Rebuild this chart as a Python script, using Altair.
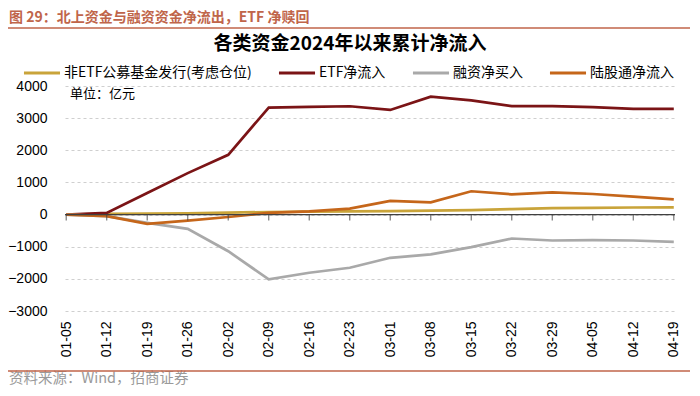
import altair as alt
import pandas as pd

dates = ["01-05", "01-12", "01-19", "01-26", "02-02", "02-09", "02-16", "02-23",
         "03-01", "03-08", "03-15", "03-22", "03-29", "04-05", "04-12", "04-19"]

series_names = ["非ETF公募基金发行(考虑仓位)", "ETF净流入", "融资净买入", "陆股通净流入"]
series_colors = ["#C9A43A", "#7B1416", "#A9A9A9", "#C5661A"]

non_etf = [0, 20, 30, 40, 60, 80, 90, 100, 110, 120, 140, 170, 200, 210, 220, 225]
etf = [0, 50, 670, 1290, 1860, 3330, 3350, 3370, 3255, 3670, 3550, 3375, 3375, 3345, 3290, 3290]
margin = [0, -50, -260, -445, -1140, -2015, -1810, -1655, -1345, -1240, -1013, -745, -806, -795, -806, -847]
northbound = [0, -50, -290, -190, -75, 50, 100, 185, 425, 380, 725, 630, 690, 640, 560, 475]

y_ticks = [-3000, -2000, -1000, 0, 1000, 2000, 3000, 4000]

header = "图 29：北上资金与融资资金净流出，ETF 净赎回"
chart_title = "各类资金2024年以来累计净流入"
unit_note = "单位：亿元"
source = "资料来源：Wind，招商证券"

rows = []
for name, vals in zip(series_names, [non_etf, etf, margin, northbound]):
    for d, v in zip(dates, vals):
        rows.append({"date": d, "series": name, "value": v})
df = pd.DataFrame(rows)

W, H = 610, 225
CJK = "Noto Sans CJK SC"
LAT = "Liberation Sans"

xscale = alt.Scale(type="point", domain=dates, padding=0.03)
yscale = alt.Scale(domain=[-3000, 4000], nice=False)

xaxis = alt.Axis(title=None, labelAngle=-90, domain=False, ticks=False,
                 labelPadding=10, labelFont=LAT, labelFontSize=14,
                 labelColor="#000000", grid=False, labelOverlap=False)
yaxis = alt.Axis(title=None, values=y_ticks, format="d", domain=False, ticks=False,
                 labelPadding=18, labelFont=LAT, labelFontSize=14,
                 labelColor="#000000", grid=True, gridColor="#CFCFCF",
                 gridDash=[3, 3], gridWidth=1, labelOverlap=False)

lines = alt.Chart(df).mark_line(strokeWidth=2.7).encode(
    x=alt.X("date:N", scale=xscale, sort=dates, axis=xaxis),
    y=alt.Y("value:Q", scale=yscale, axis=yaxis),
    color=alt.Color("series:N",
                    scale=alt.Scale(domain=series_names, range=series_colors),
                    legend=alt.Legend(title=None, orient="none", direction="horizontal",
                                      legendX=-43, legendY=-33, symbolType="stroke",
                                      symbolSize=1300, symbolStrokeWidth=3,
                                      labelFont=CJK, labelFontSize=14, labelLimit=400,
                                      labelColor="#000000", labelOffset=2,
                                      columnPadding=20, columns=4)),
    order=alt.Order("series_idx:Q"),
).transform_calculate(
    series_idx="indexof(" + str(series_names) + ", datum.series)"
)

zero = alt.Chart(pd.DataFrame({"value": [0]})).mark_rule(color="#404040", strokeWidth=1.2).encode(
    y=alt.Y("value:Q", scale=yscale, axis=yaxis)
)

ticks = alt.Chart(pd.DataFrame({"date": dates, "value": [0] * len(dates)})).mark_tick(
    orient="vertical", size=6, thickness=1.2, color="#404040", yOffset=3
).encode(
    x=alt.X("date:N", scale=xscale, sort=dates, axis=xaxis),
    y=alt.Y("value:Q", scale=yscale, axis=yaxis),
)

def text_layer(txt, x, y, **kw):
    return alt.Chart(pd.DataFrame({"t": [txt]})).mark_text(**kw).encode(
        x=alt.value(x), y=alt.value(y), text="t:N")

header_t = text_layer(header, -56, -68, align="left", baseline="middle",
                      font=CJK, fontSize=14, fontWeight="bold", color="#C0654A")
title_t = text_layer(chart_title, 285, -42, align="center", baseline="middle",
                     font=CJK, fontSize=19, fontWeight="bold", color="#000000")
unit_t = text_layer(unit_note, 5, 8, align="left", baseline="middle",
                    font=CJK, fontSize=13, color="#000000")
source_t = text_layer(source, -56, 293, align="left", baseline="middle",
                      font=CJK, fontSize=14.5, color="#9A9A9A")

top_rule = alt.Chart(pd.DataFrame({"a": [0]})).mark_rule(color="#C0654A", strokeWidth=1.5).encode(
    x=alt.value(-57), x2=alt.value(625), y=alt.value(-58))
bot_rule = alt.Chart(pd.DataFrame({"a": [0]})).mark_rule(color="#C0654A", strokeWidth=1.5).encode(
    x=alt.value(-57), x2=alt.value(625), y=alt.value(285))

chart = alt.layer(lines, zero, ticks, header_t, title_t, unit_t, source_t, top_rule, bot_rule).properties(
    width=W, height=H,
    autosize=alt.AutoSizeParams(type="none"),
    padding={"left": 57, "top": 78, "right": 15, "bottom": 77},
).configure_view(stroke=None)

chart.save("out.html", embed_options={"renderer": "svg", "actions": False})
